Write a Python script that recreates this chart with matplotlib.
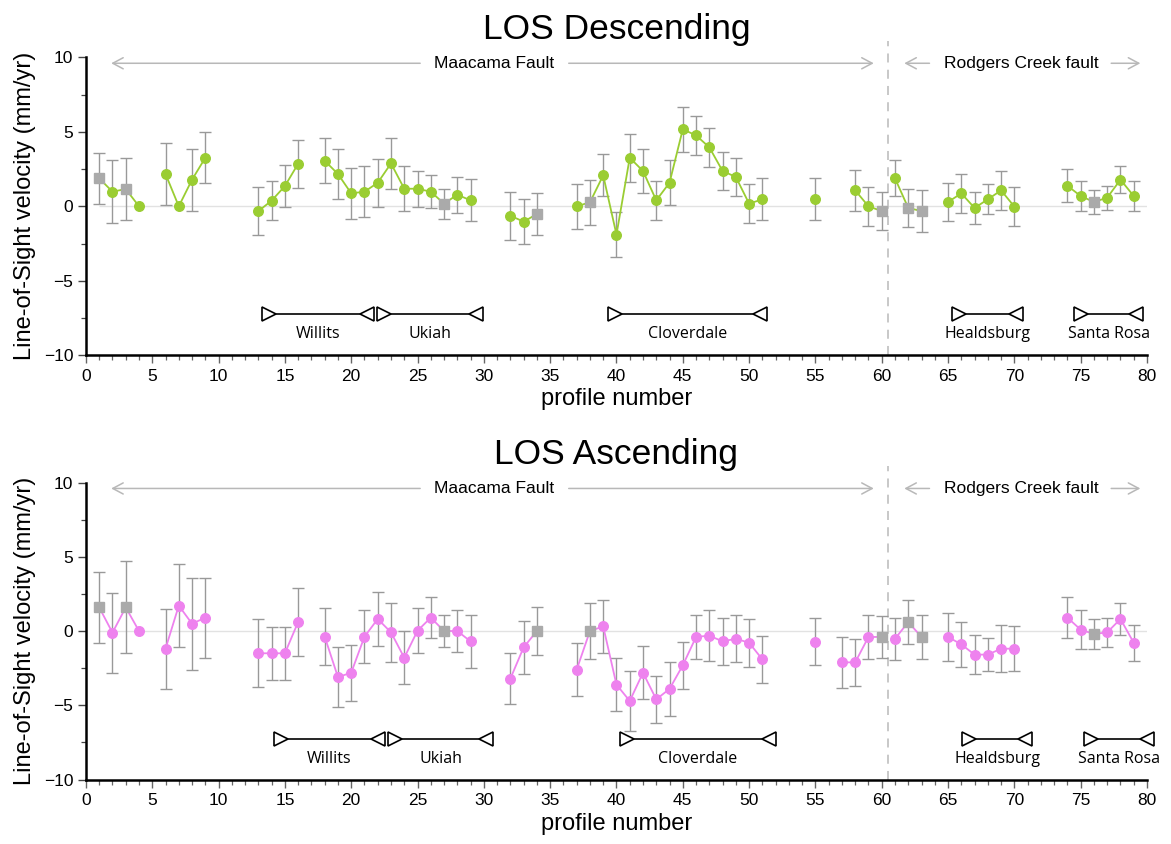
import numpy as np
import matplotlib
matplotlib.use("Agg")
import matplotlib.pyplot as plt
from matplotlib.ticker import MultipleLocator

plt.rcParams['font.family'] = ['Liberation Sans', 'DejaVu Sans']

# ---------------- data ----------------
profiles_desc = [1, 2, 3, 4, 6, 7, 8, 9, 13, 14, 15, 16, 18, 19, 20, 21, 22, 23, 24, 25,
                 26, 27, 28, 29, 32, 33, 34, 37, 38, 39, 40, 41, 42, 43, 44, 45, 46, 47,
                 48, 49, 50, 51, 55, 58, 59, 60, 61, 62, 63, 65, 66, 67, 68, 69, 70,
                 74, 75, 76, 77, 78, 79]
velocity_desc = [1.88, 0.98, 1.16, 0.0, 2.17, 0.0, 1.79, 3.26, -0.32, 0.38, 1.36, 2.86,
                 3.06, 2.17, 0.87, 0.98, 1.58, 2.88, 1.18, 1.18, 0.98, 0.18, 0.78, 0.40,
                 -0.63, -1.03, -0.52, 0.0, 0.27, 2.08, -1.90, 3.26, 2.37, 0.40, 1.58,
                 5.17, 4.76, 3.96, 2.37, 1.97, 0.18, 0.47, 0.47, 1.07, 0.0, -0.32, 1.88,
                 -0.11, -0.32, 0.29, 0.87, -0.11, 0.47, 1.07, -0.02, 1.38, 0.69, 0.29,
                 0.58, 1.79, 0.69]
error_desc = [1.7, 2.1, 2.1, 0.0, 2.1, 0.0, 2.08, 1.7, 1.6, 1.3, 1.4, 1.6,
              1.5, 1.7, 1.7, 1.7, 1.6, 1.7, 1.5, 1.2, 1.1, 1.0, 1.2, 1.4,
              1.6, 1.5, 1.4, 1.5, 1.5, 1.4, 1.5, 1.6, 1.5, 1.3, 1.5,
              1.5, 1.3, 1.3, 1.3, 1.3, 1.3, 1.4, 1.4, 1.4, 1.3, 1.3, 1.2,
              1.3, 1.4, 1.3, 1.3, 1.1, 1.0, 1.3, 1.3, 1.1, 1.0, 0.8,
              0.8, 0.9, 1.0]

profiles_asc = [1, 2, 3, 4, 6, 7, 8, 9, 13, 14, 15, 16, 18, 19, 20, 21, 22, 23, 24, 25,
                26, 27, 28, 29, 32, 33, 34, 37, 38, 39, 40, 41, 42, 43, 44, 45, 46, 47,
                48, 49, 50, 51, 55, 57, 58, 59, 60, 61, 62, 63, 65, 66, 67, 68, 69, 70,
                74, 75, 76, 77, 78, 79]
velocity_asc = [1.59, -0.11, 1.59, 0.0, -1.19, 1.71, 0.49, 0.90, -1.50, -1.50, -1.50, 0.61,
                -0.38, -3.10, -2.81, -0.38, 0.81, -0.09, -1.80, 0.02, 0.90, 0.0, 0.0, -0.70,
                -3.21, -1.10, 0.0, -2.60, 0.0, 0.31, -3.61, -4.71, -2.81, -4.60, -3.90,
                -2.31, -0.40, -0.31, -0.70, -0.52, -0.79, -1.91, -0.72, -2.11, -2.11, -0.40,
                -0.40, -0.52, 0.60, -0.40, -0.40, -0.90, -1.59, -1.59, -1.19, -1.19,
                0.90, 0.09, -0.20, -0.09, 0.81, -0.79]
error_asc = [2.4, 2.7, 3.1, 0.0, 2.7, 2.8, 3.1, 2.7, 2.3, 1.8, 1.8, 2.3,
             1.9, 2.0, 1.9, 1.8, 1.8, 2.0, 1.8, 1.5, 1.4, 1.1, 1.4, 1.8,
             1.7, 1.8, 1.6, 1.8, 1.9, 1.8, 1.8, 2.0, 1.8, 1.6, 1.8,
             1.6, 1.5, 1.7, 1.6, 1.6, 1.6, 1.6, 1.6, 1.7, 1.6, 1.5,
             1.4, 1.4, 1.5, 1.5, 1.6, 1.5, 1.3, 1.1, 1.6, 1.5,
             1.4, 1.3, 1.0, 1.0, 1.1, 1.2]

# profiles flagged as reference / low-quality (drawn as grey squares)
flagged_profiles = [1, 3, 27, 34, 38, 60, 62, 63, 76]

fault_boundary = 60.5

towns = ["Willits", "Ukiah", "Cloverdale", "Healdsburg", "Santa Rosa"]
town_span_desc = [(13.8, 21.2), (22.5, 29.4), (39.9, 50.8), (65.8, 70.1), (75.0, 79.2)]
town_span_asc = [(14.7, 22.0), (23.3, 30.2), (40.8, 51.5), (66.6, 70.8), (75.8, 80.0)]

GREEN = '#9acd32'
VIOLET = '#ee82ee'
FLAG_GREY = '#aaaaaa'
BAR_GREY = '#999999'
ARROW_GREY = '#b8b8b8'


def segments(x):
    """Split profile indices into runs of consecutive profiles on one fault."""
    runs, cur = [], [0]
    for i in range(1, len(x)):
        gap = x[i] - x[i - 1] > 1
        crosses = x[i - 1] < fault_boundary < x[i]
        if gap or crosses:
            runs.append(cur)
            cur = []
        cur.append(i)
    runs.append(cur)
    return runs


def draw_panel(ax, title, x, v, e, color, spans):
    x = np.asarray(x, float)
    v = np.asarray(v, float)
    e = np.asarray(e, float)
    flagged = np.isin(x, flagged_profiles)

    ax.set_xlim(0, 80)
    ax.set_ylim(-10, 10)

    ax.hlines(0, 1, 80, color='#e2e2e2', lw=1.0, zorder=0)
    ax.plot([fault_boundary, fault_boundary], [-10, 11.1], color='#c4c4c4',
            lw=1.3, ls=(0, (5, 4)), clip_on=False, zorder=0.5)

    has_err = e > 0
    ax.errorbar(x[has_err], v[has_err], yerr=e[has_err], fmt='none',
                ecolor=BAR_GREY, elinewidth=1.0, capsize=4, capthick=1.0, zorder=1)

    for run in segments(x):
        ax.plot(x[run], v[run], color=color, lw=1.3, zorder=2)
    ax.plot(x[~flagged], v[~flagged], 'o', color=color, ms=6.9, mec=color, zorder=3)
    ax.plot(x[flagged], v[flagged], 's', color=FLAG_GREY, ms=6.6, mec=FLAG_GREY, zorder=3)

    # fault annotations
    ya = 9.6
    arrow_kw = dict(arrowstyle='->,head_length=0.75,head_width=0.4', color=ARROW_GREY,
                    lw=1.1, shrinkA=0, shrinkB=0)
    ax.annotate('', xy=(1.9, ya), xytext=(25.2, ya), arrowprops=arrow_kw)
    ax.annotate('', xy=(59.4, ya), xytext=(36.4, ya), arrowprops=arrow_kw)
    ax.text(30.8, ya, 'Maacama Fault', ha='center', va='center', fontsize=12.5)
    ax.annotate('', xy=(61.7, ya), xytext=(63.6, ya), arrowprops=arrow_kw)
    ax.annotate('', xy=(79.5, ya), xytext=(77.3, ya), arrowprops=arrow_kw)
    ax.text(70.5, ya, 'Rodgers Creek fault', ha='center', va='center', fontsize=12.5)

    # town extents
    ybar = -7.25
    for name, (a, b) in zip(towns, spans):
        ax.plot([a, b], [ybar, ybar], color='black', lw=1.2, zorder=4, clip_on=False)
        ax.plot([a], [ybar], marker='>', ms=9.5, mfc='white', mec='black', mew=1.2,
                zorder=5, clip_on=False)
        ax.plot([b], [ybar], marker='<', ms=9.5, mfc='white', mec='black', mew=1.2,
                zorder=5, clip_on=False)
        ax.text((a + b) / 2, -8.6, name, ha='center', va='center', fontsize=11.5,
                family=['Open Sans', 'DejaVu Sans'])

    # axes styling
    for s in ('top', 'right'):
        ax.spines[s].set_visible(False)
    for s in ('left', 'bottom'):
        ax.spines[s].set_linewidth(1.8)
    ax.xaxis.set_major_locator(MultipleLocator(5))
    ax.xaxis.set_minor_locator(MultipleLocator(1))
    ax.yaxis.set_major_locator(MultipleLocator(5))
    ax.yaxis.set_minor_locator(MultipleLocator(2.5))
    ax.tick_params(axis='x', which='major', length=6, width=1.0, color='#666666',
                   labelsize=12.5, pad=4)
    ax.tick_params(axis='x', which='minor', length=3.5, width=0.9, color='#666666')
    ax.tick_params(axis='y', which='major', length=6, width=1.0, color='#444444',
                   labelsize=12.5, pad=3)
    ax.tick_params(axis='y', which='minor', length=3.5, width=0.9, color='#444444')
    ax.set_yticks([-10, -5, 0, 5, 10])
    ax.set_yticklabels(['\u221210', '\u22125', '0', '5', '10'])

    ax.set_xlabel('profile number', fontsize=17, labelpad=3)
    ax.set_ylabel('Line-of-Sight velocity (mm/yr)', fontsize=17)
    ax.yaxis.set_label_coords(-0.047, 0.5)
    ax.set_title(title, fontsize=25.5, pad=13)


fig = plt.figure(figsize=(11.71, 8.44), dpi=100)
ax_top = fig.add_axes([0.0734, 0.579, 0.9061, 0.3531])
ax_bot = fig.add_axes([0.0734, 0.0764, 0.9061, 0.3519])

draw_panel(ax_top, 'LOS Descending', profiles_desc, velocity_desc, error_desc, GREEN,
           town_span_desc)
draw_panel(ax_bot, 'LOS Ascending', profiles_asc, velocity_asc, error_asc, VIOLET,
           town_span_asc)

fig.savefig('out.png', dpi=100)
